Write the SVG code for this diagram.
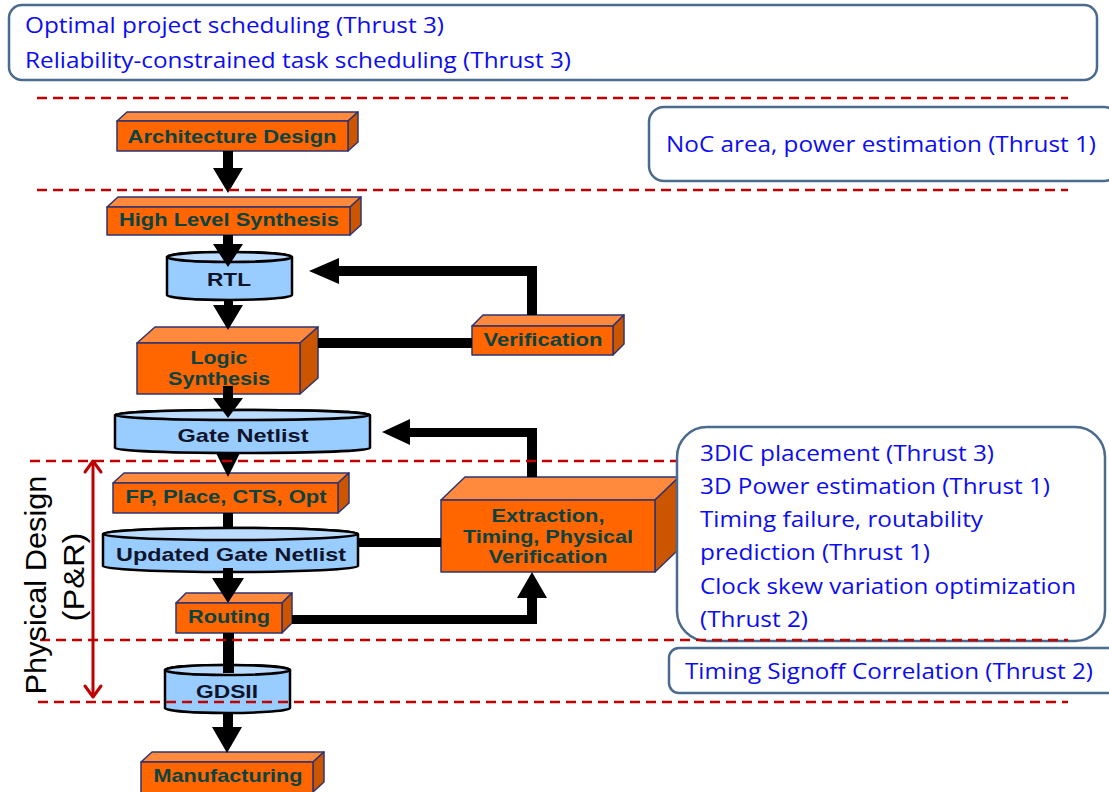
<svg xmlns="http://www.w3.org/2000/svg" width="1109" height="792" viewBox="0 0 1109 792">
  <style>
    .note { fill: #ffffff; stroke: #4a6a8e; stroke-width: 2.5; }
    .nt { font-family: "Open Sans", "Noto Sans", sans-serif; font-size: 22px; fill: #0c0cf2; }
    .front { fill: #ff6600; stroke: #2f3470; stroke-width: 1.5; stroke-linejoin: round; }
    .top { fill: #ff8a3d; stroke: #2f3470; stroke-width: 1.5; stroke-linejoin: round; }
    .side { fill: #cc5500; stroke: #2f3470; stroke-width: 1.5; stroke-linejoin: round; }
    .bl { font-family: "Liberation Sans", Arial, sans-serif; font-weight: bold; font-size: 19px; fill: #0b4242; text-anchor: middle; }
    .cyl { fill: #99ccff; stroke: #000000; stroke-width: 2.5; }
    .cyltop { fill: #bcdcff; stroke: #000000; stroke-width: 2.5; }
    .cl { font-family: "Liberation Sans", Arial, sans-serif; font-weight: bold; font-size: 19px; fill: #10142a; text-anchor: middle; }
    .conn { fill: #000000; }
    .sep { stroke: #c00000; stroke-width: 2.5; stroke-dasharray: 10 6; fill: none; }
    .pd { font-family: "Liberation Sans", Arial, sans-serif; font-size: 30px; fill: #000000; text-anchor: middle; }
    .span { stroke: #c00000; stroke-width: 3; fill: none; stroke-linecap: round; stroke-linejoin: round; }
  </style>

  <rect width="1109" height="792" fill="#ffffff"/>

  <!-- annotation boxes -->
  <g id="note-scheduling">
    <rect class="note" x="9" y="5" width="1088" height="75" rx="13"/>
    <text class="nt" x="25" y="33" textLength="419" lengthAdjust="spacingAndGlyphs">Optimal project scheduling (Thrust 3)</text>
    <text class="nt" x="25" y="68" textLength="546" lengthAdjust="spacingAndGlyphs">Reliability-constrained task scheduling (Thrust 3)</text>
  </g>
  <g id="note-noc">
    <rect class="note" x="649" y="107" width="470" height="74" rx="15"/>
    <text class="nt" x="666" y="152" textLength="430" lengthAdjust="spacingAndGlyphs">NoC area, power estimation (Thrust 1)</text>
  </g>

  <!-- flow nodes -->
  <g id="architecture-design">
    <polygon class="top" points="117,121 127,112 358,112 348,121"/>
    <polygon class="side" points="348,121 358,112 358,142 348,151"/>
    <rect class="front" x="117" y="121" width="231" height="30"/>
    <text class="bl" x="232" y="143" textLength="209" lengthAdjust="spacingAndGlyphs">Architecture Design</text>
  </g>
  <g id="high-level-synthesis">
    <polygon class="top" points="107,207 118,197 361,197 350,207"/>
    <polygon class="side" points="350,207 361,197 361,225 350,235"/>
    <rect class="front" x="107" y="207" width="243" height="28"/>
    <text class="bl" x="229" y="226" textLength="220" lengthAdjust="spacingAndGlyphs">High Level Synthesis</text>
  </g>
  <g id="rtl">
    <path class="cyl" d="M167,257 A62.5,5 0 0 1 292,257 V295 A62.5,5 0 0 1 167,295 Z"/>
    <ellipse class="cyltop" cx="229.5" cy="257" rx="62.5" ry="5"/>
    <text class="cl" x="229" y="286" textLength="44" lengthAdjust="spacingAndGlyphs">RTL</text>
  </g>
  <g id="logic-synthesis">
    <polygon class="top" points="137,343 155,327 318,327 300,343"/>
    <polygon class="side" points="300,343 318,327 318,378 300,394"/>
    <rect class="front" x="137" y="343" width="163" height="51"/>
    <text class="bl" x="219" y="364" textLength="57" lengthAdjust="spacingAndGlyphs">Logic</text>
    <text class="bl" x="219" y="385" textLength="102" lengthAdjust="spacingAndGlyphs">Synthesis</text>
  </g>
  <g id="verification">
    <polygon class="top" points="472,326 483,315 624,315 613,326"/>
    <polygon class="side" points="613,326 624,315 624,344 613,355"/>
    <rect class="front" x="472" y="326" width="141" height="29"/>
    <text class="bl" x="543" y="346" textLength="119" lengthAdjust="spacingAndGlyphs">Verification</text>
  </g>
  <g id="gate-netlist">
    <path class="cyl" d="M115,415 A127.5,5 0 0 1 370,415 V448 A127.5,5 0 0 1 115,448 Z"/>
    <ellipse class="cyltop" cx="242.5" cy="415" rx="127.5" ry="5"/>
    <text class="cl" x="243" y="442" textLength="131" lengthAdjust="spacingAndGlyphs">Gate Netlist</text>
  </g>
  <g id="fp-place-cts-opt">
    <polygon class="top" points="113,483 124,473 349,473 338,483"/>
    <polygon class="side" points="338,483 349,473 349,503 338,513"/>
    <rect class="front" x="113" y="483" width="225" height="30"/>
    <text class="bl" x="226" y="503" textLength="201" lengthAdjust="spacingAndGlyphs">FP, Place, CTS, Opt</text>
  </g>
  <g id="updated-gate-netlist">
    <path class="cyl" d="M103,534 A127.5,6 0 0 1 358,534 V566 A127.5,6 0 0 1 103,566 Z"/>
    <ellipse class="cyltop" cx="230.5" cy="534" rx="127.5" ry="6"/>
    <text class="cl" x="231" y="561" textLength="230" lengthAdjust="spacingAndGlyphs">Updated Gate Netlist</text>
  </g>
  <g id="extraction-timing-verification">
    <polygon class="top" points="441,500 465,477 679,477 655,500"/>
    <polygon class="side" points="655,500 679,477 679,549 655,572"/>
    <rect class="front" x="441" y="500" width="214" height="72"/>
    <text class="bl" x="548" y="522" textLength="113" lengthAdjust="spacingAndGlyphs">Extraction,</text>
    <text class="bl" x="548" y="543" textLength="170" lengthAdjust="spacingAndGlyphs">Timing, Physical</text>
    <text class="bl" x="548" y="563" textLength="119" lengthAdjust="spacingAndGlyphs">Verification</text>
  </g>
  <g id="routing">
    <polygon class="top" points="176,603 186,593 292,593 282,603"/>
    <polygon class="side" points="282,603 292,593 292,623 282,633"/>
    <rect class="front" x="176" y="603" width="106" height="30"/>
    <text class="bl" x="229" y="623" textLength="82" lengthAdjust="spacingAndGlyphs">Routing</text>
  </g>
  <g id="gdsii">
    <path class="cyl" d="M165,670 A62.5,5 0 0 1 290,670 V708 A62.5,5 0 0 1 165,708 Z"/>
    <ellipse class="cyltop" cx="227.5" cy="670" rx="62.5" ry="5"/>
    <text class="cl" x="227" y="698" textLength="62" lengthAdjust="spacingAndGlyphs">GDSII</text>
  </g>
  <g id="manufacturing">
    <polygon class="top" points="141,762 152,752 324,752 313,762"/>
    <polygon class="side" points="313,762 324,752 324,782 313,792"/>
    <rect class="front" x="141" y="762" width="172" height="32"/>
    <text class="bl" x="228" y="782" textLength="149" lengthAdjust="spacingAndGlyphs">Manufacturing</text>
  </g>

  <!-- connectors -->
  <g id="connectors">
    <polygon class="conn" points="223,151 233,151 233,168 243,168 228,193 213,168 223,168"/>
    <polygon class="conn" points="223,235 233,235 233,244 243,244 228,267 213,244 223,244"/>
    <polygon class="conn" points="224,300 233,300 233,305 243,305 228,330 213,305 224,305"/>
    <polygon class="conn" points="223,386 233,386 233,398 243,398 228,418 213,398 223,398"/>
    <polygon class="conn" points="216,453 240,453 228,477"/>
    <rect class="conn" x="223" y="513" width="10" height="15"/>
    <polygon class="conn" points="223,568 233,568 233,578 244,578 228,603 212,578 223,578"/>
    <rect class="conn" x="223" y="633" width="11" height="40"/>
    <polygon class="conn" points="223,713 233,713 233,727 242,727 227,753 212,727 223,727"/>
    <!-- feedback from Logic Synthesis / Verification to RTL -->
    <rect class="conn" x="318" y="338" width="154" height="10"/>
    <polygon class="conn" points="537,315 527,315 527,276 339,276 339,284 309,271 339,258 339,266 537,266"/>
    <!-- feedback from extraction to Gate Netlist -->
    <polygon class="conn" points="537,477 527,477 527,437 410,437 410,445 382,432 410,419 410,428 537,428"/>
    <rect class="conn" x="358" y="538" width="83" height="9"/>
    <!-- Routing up into extraction -->
    <polygon class="conn" points="292,615 527,615 527,598 517,598 532,572 547,598 537,598 537,624 292,624"/>
  </g>

  <!-- stage separators -->
  <g id="separators">
    <line class="sep" x1="37" y1="98" x2="1068" y2="98"/>
    <line class="sep" x1="37" y1="190" x2="1068" y2="190"/>
    <line class="sep" x1="30" y1="461" x2="677" y2="461"/>
  </g>

  <g id="note-physical">
    <rect class="note" x="677" y="427" width="428" height="214" rx="30"/>
    <text class="nt" x="700" y="461" textLength="294" lengthAdjust="spacingAndGlyphs">3DIC placement (Thrust 3)</text>
    <text class="nt" x="700" y="494" textLength="350" lengthAdjust="spacingAndGlyphs">3D Power estimation (Thrust 1)</text>
    <text class="nt" x="700" y="527" textLength="283" lengthAdjust="spacingAndGlyphs">Timing failure, routability</text>
    <text class="nt" x="700" y="560" textLength="230" lengthAdjust="spacingAndGlyphs">prediction (Thrust 1)</text>
    <text class="nt" x="700" y="594" textLength="376" lengthAdjust="spacingAndGlyphs">Clock skew variation optimization</text>
    <text class="nt" x="700" y="627" textLength="108" lengthAdjust="spacingAndGlyphs">(Thrust 2)</text>
  </g>
  <g id="note-signoff">
    <rect class="note" x="669" y="648" width="450" height="45" rx="10"/>
    <text class="nt" x="685" y="679" textLength="408" lengthAdjust="spacingAndGlyphs">Timing Signoff Correlation (Thrust 2)</text>
  </g>

  <g id="separators-lower">
    <line class="sep" x1="40" y1="640" x2="1068" y2="640"/>
    <line class="sep" x1="38" y1="702" x2="1068" y2="702"/>
  </g>

  <!-- physical design span -->
  <g id="physical-design">
    <line class="span" x1="93" y1="462" x2="93" y2="696"/>
    <polyline class="span" points="85,472 93,461 101,472"/>
    <polyline class="span" points="85,686 93,697 101,686"/>
    <text class="pd" transform="translate(46,585) rotate(-90)" textLength="219" lengthAdjust="spacingAndGlyphs">Physical Design</text>
    <text class="pd" transform="translate(84,577) rotate(-90)" textLength="89" lengthAdjust="spacingAndGlyphs">(P&amp;R)</text>
  </g>
</svg>
